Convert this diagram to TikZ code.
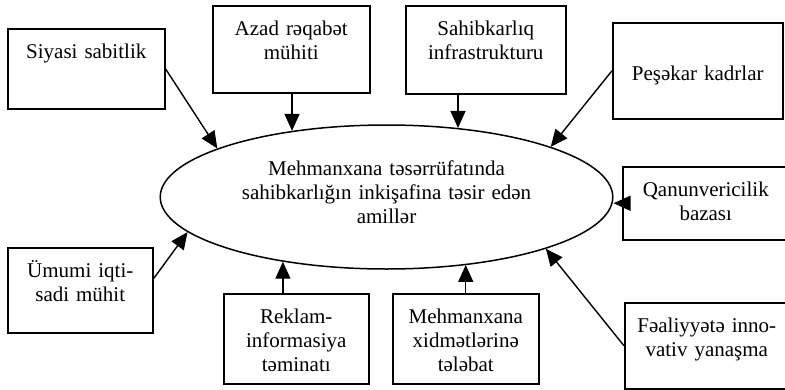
\documentclass[tikz,border=0pt]{standalone}
\usepackage{fontspec}
\setmainfont{Liberation Serif}
\usetikzlibrary{shapes.geometric, arrows.meta}
\tikzstyle{factor} = [rectangle, draw=black, line width=1.5pt, anchor=north west, inner sep=0pt, text centered, text height=30pt]
\tikzstyle{center} = [ellipse, draw=black, line width=1.5pt, minimum width=420pt, minimum height=144pt, inner sep=0pt, text width=320pt, text centered, text height=15pt, text depth=59pt]
\tikzstyle{arrow} = [line width=1.4pt, -{Triangle[length=17pt, width=15pt]}]

\begin{document}
\begin{tikzpicture}[x=1pt, y=-1pt, font=\fontsize{21}{24}\selectfont]
\useasboundingbox (0,0) rectangle (785,389);

\node (ell) [center] at (386.5,197) {Mehmanxana təsərrüfatında\\sahibkarlığın inkişafina təsir edən\\amillər};

\node (siyasi) [factor, text width=157pt, text depth=50pt] at (7,28) {Siyasi sabitlik};
\node (azad) [factor, text width=157pt, text depth=57pt] at (212,5) {Azad rəqabət\\mühiti};
\node (sahib) [factor, text width=160pt, text depth=58pt] at (405,5) {Sahibkarlıq\\infrastrukturu};
\node (pesekar) [factor, text width=170pt, text height=58pt, text depth=38pt] at (612,22) {Peşəkar kadrlar};
\node (qanun) [factor, text width=166pt, text depth=43pt] at (622,166) {Qanunvericilik\\bazası};

\node (umumi) [factor, text width=145pt, text depth=55pt] at (7,247) {Ümumi iqti-\\sadi mühit};
\node (reklam) [factor, text width=145pt, text depth=60pt] at (223,293) {Reklam-\\informasiya\\təminatı};
\node (mehman) [factor, text width=146pt, text depth=60pt] at (392,293) {Mehmanxana\\xidmətlərinə\\tələbat};
\node (faal) [factor, text width=164pt, text depth=56pt] at (624,302) {Fəaliyyətə inno-\\vativ yanaşma};

\draw [arrow] (siyasi.east) -- (ell.164);
\draw [arrow] (ell.145 |- azad.south) -- (ell.145);
\draw [arrow] (ell.44 |- sahib.south) -- (ell.44);
\draw [arrow] (pesekar.west) -- (ell.17.5);
\draw [arrow] (qanun.west) -- (qanun.west -| ell.east);
\draw [arrow] (faal.west) -- (ell.-18);
\draw [arrow] (mehman.north) -- (mehman.north |- ell.-40);
\draw [arrow] (ell.-148.5 |- reklam.north) -- (ell.-148.5);
\draw [arrow] ([yshift=11.5pt]umumi.east) -- (ell.190);

\end{tikzpicture}
\end{document}
